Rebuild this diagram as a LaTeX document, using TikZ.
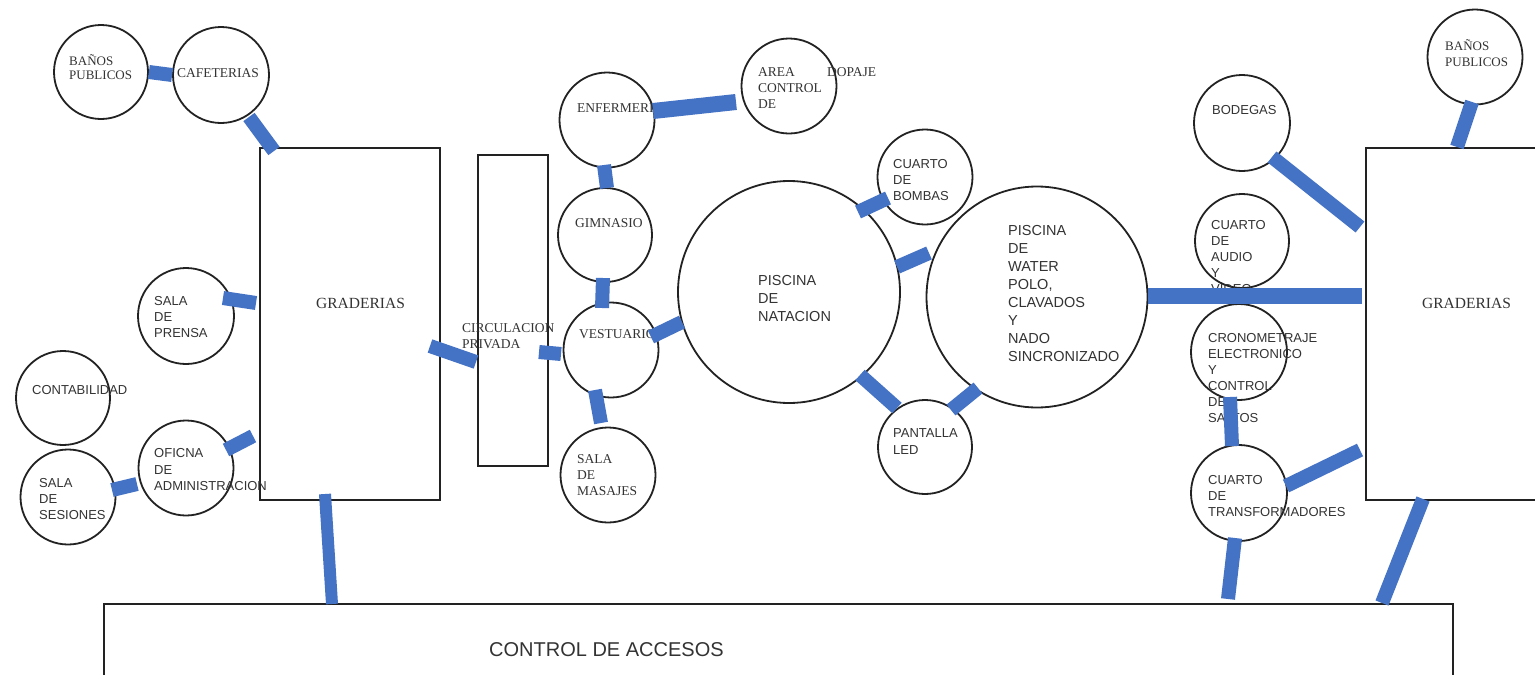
\documentclass[tikz,border=0pt]{standalone}
\usepackage{fontspec}
\setmainfont{Liberation Serif}
\setsansfont{Liberation Sans}
\usetikzlibrary{calc}
\definecolor{linkblue}{HTML}{4472C4}
\definecolor{edgegray}{HTML}{222222}
\tikzset{
  room/.style={circle, draw=edgegray, line width=1.8pt, inner sep=0pt},
  hall/.style={rectangle, draw=edgegray, line width=1.9pt, inner sep=0pt},
  link/.style={draw=linkblue, line width=14pt},
  serlbl/.style={font=\rmfamily\fontsize{13.5}{16}\selectfont, anchor=north west, inner sep=0pt, align=left, text=black!80},
  sanlbl/.style={font=\sffamily\fontsize{13}{16}\selectfont, anchor=north west, inner sep=0pt, align=left, text=black!80},
  biglbl/.style={font=\sffamily\fontsize{14.5}{18.1}\selectfont, anchor=north west, inner sep=0pt, align=left, text=black!80}
}
\begin{document}
\begin{tikzpicture}[x=1pt,y=-1pt]
\useasboundingbox (0,0) rectangle (1535,675);
\fill[white] (0,0) rectangle (1535,675);

% rooms (circles)
\node[room, minimum size=94] (banosL) at (101,72) {};
\node[room, minimum size=96] (caf) at (221,75) {};
\node[room, minimum size=96] (prensa) at (186,316) {};
\node[room, minimum size=94] (conta) at (63,398) {};
\node[room, minimum size=95] (sesiones) at (68,497) {};
\node[room, minimum size=95] (oficina) at (186,468) {};
\node[room, minimum size=95] (enf) at (607,120) {};
\node[room, minimum size=95] (dopaje) at (789,86) {};
\node[room, minimum size=94] (gim) at (605,235) {};
\node[room, minimum size=95] (vest) at (611,350) {};
\node[room, minimum size=95] (masajes) at (608,475) {};
\node[room, minimum size=222] (natacion) at (789,292) {};
\node[room, minimum size=95] (bombas) at (925,177) {};
\node[room, minimum size=94] (pantalla) at (925,447) {};
\node[room, minimum size=221] (waterpolo) at (1037,297) {};
\node[room, minimum size=96] (bodegas) at (1242,123) {};
\node[room, minimum size=95] (banosR) at (1475,57) {};
\node[room, minimum size=94] (audio) at (1242,241) {};
\node[room, minimum size=96] (crono) at (1239,352) {};
\node[room, minimum size=96] (transf) at (1239,493) {};

% halls (rectangles)
\node[hall, minimum width=180, minimum height=352] (gradL) at (350,324) {};
\node[hall, minimum width=70, minimum height=311] (circ) at (513,310.5) {};
\node[hall, minimum width=190, minimum height=352] (gradR) at (1461,324) {};
\node[hall, minimum width=1349, minimum height=90] (accesos) at (778.5,649) {};

% labels
\node[serlbl, font=\rmfamily\fontsize{13}{14}\selectfont] (tBanosL) at (69,54) {BAÑOS\\PUBLICOS};
\node[serlbl] (tCaf) at (177,68.5) {CAFETERIAS};
\node[serlbl, font=\rmfamily\fontsize{15.5}{18}\selectfont] (tGradL) at (316,297.8) {GRADERIAS};
\node[serlbl, font=\rmfamily\fontsize{15.5}{18}\selectfont] (tGradR) at (1422,297.8) {GRADERIAS};
\node[serlbl] (tCirc) at (462,323.5) {CIRCULACION\\PRIVADA};
\node[serlbl] (tEnf) at (577,103.5) {ENFERMERIA};
\node[serlbl] (tArea) at (758,67.5) {AREA\\CONTROL\\DE};
\node[serlbl] (tDopaje) at (827,67.5) {DOPAJE};
\node[serlbl] (tGim) at (575,218.5) {GIMNASIO};
\node[serlbl] (tVest) at (579,329.5) {VESTUARIO};
\node[serlbl] (tMasajes) at (577,454.5) {SALA\\DE\\MASAJES};
\node[serlbl, font=\rmfamily\fontsize{13}{16}\selectfont] (tBanosR) at (1445,39) {BAÑOS\\PUBLICOS};

\node[sanlbl] (tPrensa) at (154,296.3) {SALA\\DE\\PRENSA};
\node[sanlbl] (tConta) at (32,385.3) {CONTABILIDAD};
\node[sanlbl, font=\sffamily\fontsize{13}{16.5}\selectfont] (tOficina) at (154,448.3) {OFICNA\\DE\\ADMINISTRACION};
\node[sanlbl] (tSesiones) at (39,478.3) {SALA\\DE\\SESIONES};
\node[sanlbl] (tBombas) at (893,159.3) {CUARTO\\DE\\BOMBAS};
\node[sanlbl, font=\sffamily\fontsize{13}{17}\selectfont] (tPantalla) at (893,428.3) {PANTALLA\\LED};
\node[sanlbl] (tBodegas) at (1212,105.3) {BODEGAS};
\node[sanlbl] (tAudio) at (1211,220.3) {CUARTO\\DE\\AUDIO\\Y\\VIDEO};
\node[sanlbl] (tCrono) at (1208,333.3) {CRONOMETRAJE\\ELECTRONICO\\Y\\CONTROL\\DE\\SALTOS};
\node[sanlbl] (tTransf) at (1208,475.3) {CUARTO\\DE\\TRANSFORMADORES};

\node[biglbl] (tNatacion) at (758,274.8) {PISCINA\\DE\\NATACION};
\node[biglbl] (tWaterpolo) at (1008,224.8) {PISCINA\\DE\\WATER\\POLO,\\CLAVADOS\\Y\\NADO\\SINCRONIZADO};
\node[biglbl, font=\sffamily\fontsize{20}{24}\selectfont] (tAccesos) at (489,642.8) {CONTROL DE ACCESOS};

% connectors
\draw[link] (banosL.east) -- (caf.west);
\draw[link] ($(caf)+(28,42)$) -- ($(gradL)+(-76,-173)$);
\draw[link] ($(prensa)+(37,-18)$) -- ($(gradL)+(-94,-21)$);
\draw[link] ($(oficina)+(40,-18)$) -- ($(gradL)+(-97,112)$);
\draw[link] ($(sesiones)+(44,-7)$) -- ($(oficina)+(-49,16)$);
\draw[link, line width=12pt] ($(gradL)+(-25,170)$) -- ($(accesos)+(-446.5,-45)$);
\draw[link] ($(gradL)+(80,22)$) -- ($(circ)+(-37,51.5)$);
\draw[link] ($(circ)+(26,41.5)$) -- ($(vest)+(-50,4)$);
\draw[link] ($(enf)+(-3,45)$) -- ($(gim)+(2,-47)$);
\draw[link, line width=16pt] ($(enf)+(46,-9)$) -- ($(dopaje)+(-53,16)$);
\draw[link] ($(gim)+(-2,43)$) -- ($(vest)+(-9,-42)$);
\draw[link] ($(vest)+(40,-13)$) -- ($(natacion)+(-107,30)$);
\draw[link] ($(vest)+(-16,40)$) -- ($(masajes)+(-7,-52)$);
\draw[link] ($(natacion)+(69,-80)$) -- ($(bombas)+(-37,21)$);
\draw[link] ($(natacion)+(108,-25)$) -- ($(waterpolo)+(-108,-44)$);
\draw[link] ($(natacion)+(71,83)$) -- ($(pantalla)+(-28,-39)$);
\draw[link] ($(pantalla)+(26,-37)$) -- ($(waterpolo)+(-59,91)$);
\draw[link, line width=16pt] ($(waterpolo)+(111,-1)$) -- ($(gradR)+(-99,-28)$);
\draw[link] ($(bodegas)+(30,34)$) -- ($(gradR)+(-101,-97)$);
\draw[link] ($(banosR)+(-3,45)$) -- ($(gradR)+(-4,-177)$);
\draw[link] ($(crono)+(-9,45)$) -- ($(transf)+(-7,-47)$);
\draw[link] ($(transf)+(47,-7)$) -- ($(gradR)+(-101,126)$);
\draw[link] ($(transf)+(-4,45)$) -- ($(accesos)+(449.5,-50)$);
\draw[link] ($(gradR)+(-38,175)$) -- ($(accesos)+(603.5,-46)$);
\end{tikzpicture}
\end{document}
